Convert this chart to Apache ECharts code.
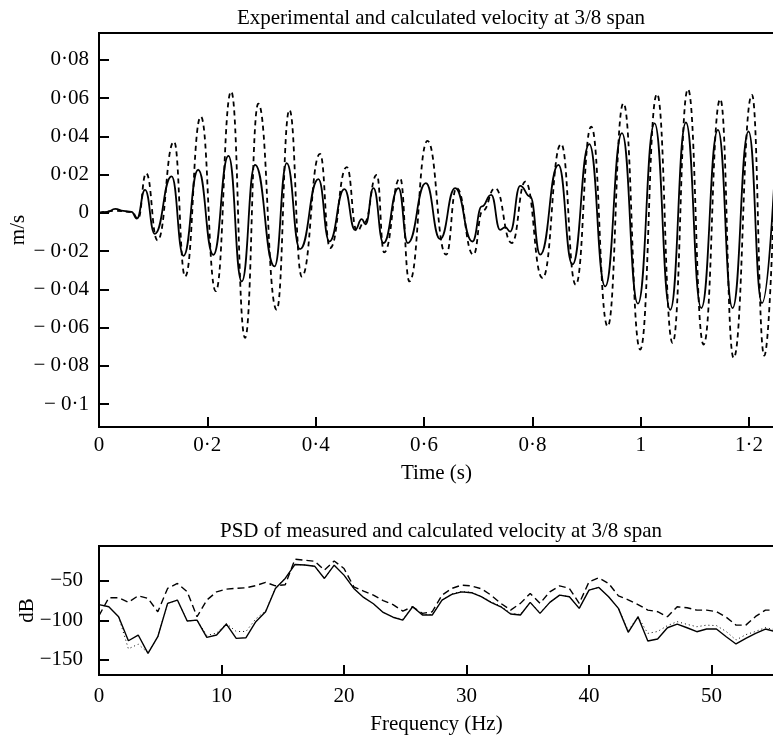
<!DOCTYPE html>
<html>
<head>
<meta charset="utf-8">
<script src="https://cdn.jsdelivr.net/npm/echarts@6/dist/echarts.min.js"></script>
<style>html,body{margin:0;padding:0;background:#fff}#c{width:773px;height:738px}</style>
</head>
<body>
<div id="c"></div>
<script>
// ---- Top panel: velocity time history (s, m/s) ----
var solidTime = [0, 0.015, 0.03, 0.045, 0.06, 0.07, 0.085, 0.103, 0.134, 0.156, 0.183, 0.211, 0.239, 0.2635, 0.288, 0.324, 0.3466, 0.371, 0.405, 0.4253, 0.453, 0.4728, 0.485, 0.492, 0.5066, 0.525, 0.5528, 0.570, 0.6033, 0.6297, 0.6574, 0.6894, 0.7067, 0.7239, 0.7405, 0.75, 0.759, 0.7775, 0.796, 0.8144, 0.848, 0.874, 0.905, 0.9344, 0.9653, 0.9948, 1.0255, 1.0545, 1.0834, 1.1117, 1.1425, 1.1695, 1.199, 1.2238, 1.25];
var solidVel = [0, 0.0005, 0.002, 0.001, 0.0005, -0.003, 0.012, -0.011, 0.019, -0.0225, 0.0225, -0.022, 0.0298, -0.0359, 0.025, -0.028, 0.026, -0.019, 0.0176, -0.015, 0.0124, -0.0089, -0.0033, -0.006, 0.0129, -0.0158, 0.0129, -0.0158, 0.0155, -0.0137, 0.0129, -0.015, 0.0033, 0.0094, -0.0089, -0.0075, -0.0098, 0.0141, 0.0085, -0.0219, 0.025, -0.027, 0.0359, -0.0385, 0.0416, -0.0475, 0.0468, -0.0507, 0.0472, -0.0498, 0.0433, -0.0498, 0.0425, -0.0472, 0.036];
var dashTime = [0, 0.03, 0.06, 0.072, 0.087, 0.108, 0.1385, 0.159, 0.188, 0.2155, 0.244, 0.2696, 0.294, 0.328, 0.3515, 0.3743, 0.408, 0.4266, 0.4574, 0.476, 0.49, 0.5128, 0.5263, 0.5558, 0.573, 0.6063, 0.6408, 0.66, 0.6912, 0.708, 0.7313, 0.762, 0.787, 0.8187, 0.853, 0.880, 0.9086, 0.939, 0.968, 0.999, 1.030, 1.0588, 1.0871, 1.116, 1.1468, 1.1714, 1.2053, 1.228, 1.25];
var dashVel = [0, 0.001, 0.0005, -0.003, 0.0207, -0.0144, 0.0372, -0.0333, 0.0503, -0.041, 0.0634, -0.0654, 0.057, -0.0507, 0.0538, -0.0333, 0.0308, -0.0184, 0.0239, -0.0095, -0.005, 0.0198, -0.0207, 0.0181, -0.0359, 0.0376, -0.0219, 0.013, -0.0219, 0.001, 0.0129, -0.0158, 0.0163, -0.0341, 0.036, -0.0376, 0.045, -0.0594, 0.0573, -0.0715, 0.0621, -0.068, 0.0646, -0.0689, 0.0594, -0.0759, 0.0616, -0.0747, 0.045];

// ---- Bottom panel: PSD (Hz, dB) ----
var freq = [0, 0.8, 1.6, 2.4, 3.2, 4.0, 4.8, 5.6, 6.4, 7.2, 8.0, 8.8, 9.6, 10.4, 11.2, 12.0, 12.8, 13.6, 14.4, 15.2, 16.0, 16.8, 17.6, 18.4, 19.2, 20.0, 20.8, 21.6, 22.4, 23.2, 24.0, 24.8, 25.6, 26.4, 27.2, 28.0, 28.8, 29.6, 30.4, 31.2, 32.0, 32.8, 33.6, 34.4, 35.2, 36.0, 36.8, 37.6, 38.4, 39.2, 40.0, 40.8, 41.6, 42.4, 43.2, 44.0, 44.8, 45.6, 46.4, 47.2, 48.0, 48.8, 49.6, 50.4, 51.2, 52.0, 52.8, 53.6, 54.4, 55.2];
var psdSolid = [-80, -82.8, -95.4, -125.7, -118.5, -141.6, -120.6, -78.5, -74.3, -100.8, -99.6, -121.4, -118.5, -104.6, -122.7, -121.9, -101.7, -89.1, -59.6, -47, -29.3, -30, -31.5, -47, -30.2, -42.8, -59.6, -71, -79, -90, -96, -99.6, -82.8, -93.2, -93.2, -74.3, -67.2, -63.9, -65, -70, -77.2, -82.8, -92, -93.2, -77.2, -91.1, -77.2, -68, -70.2, -84.8, -61.7, -58.3, -70.2, -84.8, -115, -95.4, -126, -123.5, -109.3, -104.6, -109.3, -114.3, -110.9, -110.9, -120.6, -129.8, -122.7, -116.4, -110.9, -114];
var psdDash = [-94, -71.4, -71.4, -77.2, -68.9, -72.2, -89.1, -59.6, -53.3, -63.9, -95.4, -74.3, -63.9, -60.5, -59.5, -58.8, -56, -52, -56.3, -55, -22.6, -24, -25.2, -36.5, -25, -34.4, -57.6, -63, -68, -75, -80, -88.2, -82.8, -91.1, -89.1, -68, -59.6, -55.4, -56.5, -60, -68, -78.5, -87, -78.5, -65.9, -78.5, -63.9, -56.3, -59.6, -78.5, -51.3, -46.2, -53.3, -69, -74, -80, -87, -89, -95.4, -82.8, -84, -87, -87, -89, -96, -106, -106, -95, -87, -87];
var psdDot = [-80, -82.8, -95.4, -136, -130, -141, -120.6, -78.5, -74.3, -100.8, -99.6, -119, -116, -104, -114, -114, -98, -88, -59.6, -47, -29.3, -30, -31.5, -47, -30.2, -42.8, -59.6, -71, -79, -90, -96, -98.5, -82.8, -92.5, -92.5, -74.3, -66.5, -63.5, -64.5, -69.5, -76.5, -82, -91, -92.5, -77.2, -90.5, -77.2, -68, -70.2, -84.8, -61.7, -58.3, -70.2, -84.8, -113, -95.4, -116.4, -114, -106.6, -101.6, -105, -108, -106, -106.6, -114, -124.8, -118, -114, -109, -112];

// ---- tick label strings ----
var velTickFmt = function (v) {
  if (Math.abs(v) < 1e-9) return '0';
  var s = String(+Math.abs(v).toFixed(3)).replace('.', '\u00B7');
  return v < 0 ? '\u2212 ' + s : s;
};
var timeTickFmt = function (v) { return String(+v.toFixed(2)).replace('.', '\u00B7'); };
var dbTickFmt = function (v) { return v < 0 ? '\u2212' + Math.abs(v) : String(v); };

function pairs(xs, ys) { return xs.map(function (x, i) { return [x, ys[i]]; }); }

var FONT = 'Liberation Serif';
var FS = 21;

function axisCommon(extra) {
  var o = {
    axisLine: { show: true, onZero: false, lineStyle: { color: '#000', width: 2 } },
    axisTick: { show: true, inside: true, length: 10, lineStyle: { color: '#000', width: 2 } },
    splitLine: { show: false },
    nameMoveOverlap: false,
    nameTextStyle: { color: '#000', fontFamily: FONT, fontSize: FS }
  };
  for (var k in extra) o[k] = extra[k];
  return o;
}

var chart = echarts.init(document.getElementById('c'), null, { renderer: 'canvas' });
chart.setOption({
  animation: false,
  backgroundColor: '#fff',
  title: [
    { text: 'Experimental and calculated velocity at 3/8 span', left: 436, top: 3, textAlign: 'center',
      textStyle: { color: '#000', fontFamily: FONT, fontSize: FS, fontWeight: 'normal' } },
    { text: 'PSD of measured and calculated velocity at 3/8 span', left: 436, top: 516, textAlign: 'center',
      textStyle: { color: '#000', fontFamily: FONT, fontSize: FS, fontWeight: 'normal' } }
  ],
  grid: [
    { left: 99, top: 33, width: 675, height: 394, show: true, borderColor: '#000', borderWidth: 2, backgroundColor: 'transparent', outerBoundsMode: 'none', containLabel: false },
    { left: 99, top: 546, width: 675, height: 129, show: true, borderColor: '#000', borderWidth: 2, backgroundColor: 'transparent', outerBoundsMode: 'none', containLabel: false }
  ],
  xAxis: [
    axisCommon({ type: 'value', gridIndex: 0, min: 0, max: 1.246, interval: 0.2, name: 'Time (s)', nameLocation: 'middle', nameGap: 36,
      axisLabel: { color: '#000', fontFamily: FONT, fontSize: FS, margin: 8, showMaxLabel: false, formatter: timeTickFmt } }),
    axisCommon({ type: 'value', gridIndex: 1, min: 0, max: 55.1, interval: 10, name: 'Frequency (Hz)', nameLocation: 'middle', nameGap: 39,
      axisLabel: { color: '#000', fontFamily: FONT, fontSize: FS, margin: 11, showMaxLabel: false } })
  ],
  yAxis: [
    axisCommon({ type: 'value', gridIndex: 0, min: -0.112, max: 0.094, splitNumber: 10, name: 'm/s', nameLocation: 'middle', nameGap: 70,
      axisLabel: { color: '#000', fontFamily: FONT, fontSize: FS, margin: 10, showMinLabel: false, showMaxLabel: false, formatter: velTickFmt } }),
    axisCommon({ type: 'value', gridIndex: 1, min: -169, max: -6, splitNumber: 3, name: 'dB', nameLocation: 'middle', nameGap: 61,
      axisLabel: { color: '#000', fontFamily: FONT, fontSize: FS, margin: 16, showMinLabel: false, showMaxLabel: false, formatter: dbTickFmt } })
  ],
  series: [
    { type: 'line', xAxisIndex: 0, yAxisIndex: 0, data: pairs(dashTime, dashVel), showSymbol: false, smooth: 0.5, smoothMonotone: 'x',
      lineStyle: { color: '#000', width: 1.8, type: [5, 4] }, z: 2 },
    { type: 'line', xAxisIndex: 0, yAxisIndex: 0, data: pairs(solidTime, solidVel), showSymbol: false, smooth: 0.5, smoothMonotone: 'x',
      lineStyle: { color: '#000', width: 1.8, type: 'solid' }, z: 3 },
    { type: 'line', xAxisIndex: 1, yAxisIndex: 1, data: pairs(freq, psdDot), showSymbol: false,
      lineStyle: { color: '#000', width: 1, type: [1, 3] }, z: 2 },
    { type: 'line', xAxisIndex: 1, yAxisIndex: 1, data: pairs(freq, psdDash), showSymbol: false,
      lineStyle: { color: '#000', width: 1.4, type: [7, 4] }, z: 2 },
    { type: 'line', xAxisIndex: 1, yAxisIndex: 1, data: pairs(freq, psdSolid), showSymbol: false,
      lineStyle: { color: '#000', width: 1.4, type: 'solid' }, z: 3 }
  ]
});
</script>
</body>
</html>
